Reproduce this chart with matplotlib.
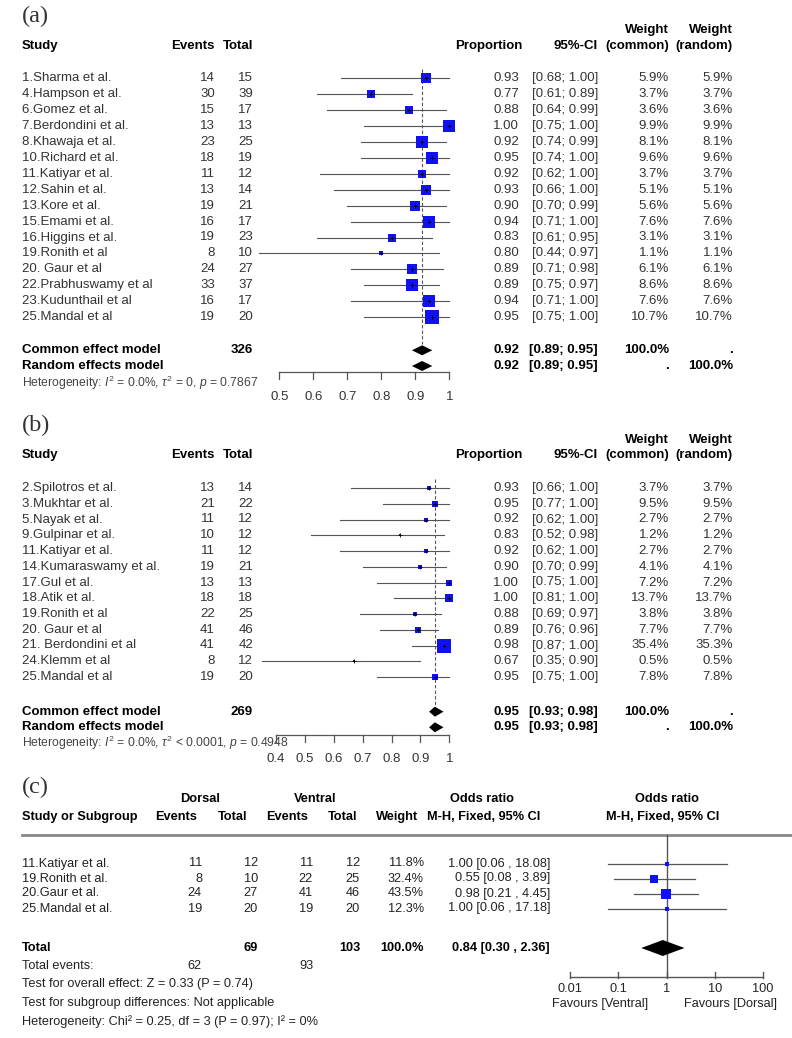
import matplotlib
matplotlib.use('Agg')
import matplotlib.pyplot as plt
import numpy as np

plt.rcParams['font.family'] = ['Liberation Sans', 'DejaVu Sans']
plt.rcParams['mathtext.fontset'] = 'custom'
plt.rcParams['mathtext.rm'] = 'Liberation Sans'
plt.rcParams['mathtext.it'] = 'Liberation Sans:italic'
plt.rcParams['mathtext.bf'] = 'Liberation Sans:bold'

# ---------------- Panel (a) data ----------------
a_studies = ['1.Sharma et al.', '4.Hampson et al.', '6.Gomez et al.', '7.Berdondini et al.',
             '8.Khawaja et al.', '10.Richard et al.', '11.Katiyar et al.', '12.Sahin et al.',
             '13.Kore et al.', '15.Emami et al.', '16.Higgins et al.', '19.Ronith et al',
             '20. Gaur et al', '22.Prabhuswamy et al', '23.Kudunthail et al', '25.Mandal et al']
a_events = [14, 30, 15, 13, 23, 18, 11, 13, 19, 16, 19, 8, 24, 33, 16, 19]
a_totals = [15, 39, 17, 13, 25, 19, 12, 14, 21, 17, 23, 10, 27, 37, 17, 20]
a_prop = [0.93, 0.77, 0.88, 1.00, 0.92, 0.95, 0.92, 0.93, 0.90, 0.94, 0.83, 0.80, 0.89, 0.89, 0.94, 0.95]
a_lo = [0.68, 0.61, 0.64, 0.75, 0.74, 0.74, 0.62, 0.66, 0.70, 0.71, 0.61, 0.44, 0.71, 0.75, 0.71, 0.75]
a_hi = [1.00, 0.89, 0.99, 1.00, 0.99, 1.00, 1.00, 1.00, 0.99, 1.00, 0.95, 0.97, 0.98, 0.97, 1.00, 1.00]
a_w_common = [5.9, 3.7, 3.6, 9.9, 8.1, 9.6, 3.7, 5.1, 5.6, 7.6, 3.1, 1.1, 6.1, 8.6, 7.6, 10.7]
a_w_random = [5.9, 3.7, 3.6, 9.9, 8.1, 9.6, 3.7, 5.1, 5.6, 7.6, 3.1, 1.1, 6.1, 8.6, 7.6, 10.7]
a_common = [0.92, 0.89, 0.95]
a_random = [0.92, 0.89, 0.95]
a_n_total = 326
a_het = r'Heterogeneity: $I^2$ = 0.0%, $\tau^2$ = 0, $p$ = 0.7867'
a_ticks = [0.5, 0.6, 0.7, 0.8, 0.9, 1.0]

# ---------------- Panel (b) data ----------------
b_studies = ['2.Spilotros et al.', '3.Mukhtar et al.', '5.Nayak et al.', '9.Gulpinar et al.',
             '11.Katiyar et al.', '14.Kumaraswamy et al.', '17.Gul et al.', '18.Atik et al.',
             '19.Ronith et al', '20. Gaur et al', '21. Berdondini et al', '24.Klemm et al',
             '25.Mandal et al']
b_events = [13, 21, 11, 10, 11, 19, 13, 18, 22, 41, 41, 8, 19]
b_totals = [14, 22, 12, 12, 12, 21, 13, 18, 25, 46, 42, 12, 20]
b_prop = [0.93, 0.95, 0.92, 0.83, 0.92, 0.90, 1.00, 1.00, 0.88, 0.89, 0.98, 0.67, 0.95]
b_lo = [0.66, 0.77, 0.62, 0.52, 0.62, 0.70, 0.75, 0.81, 0.69, 0.76, 0.87, 0.35, 0.75]
b_hi = [1.00, 1.00, 1.00, 0.98, 1.00, 0.99, 1.00, 1.00, 0.97, 0.96, 1.00, 0.90, 1.00]
b_w_common = [3.7, 9.5, 2.7, 1.2, 2.7, 4.1, 7.2, 13.7, 3.8, 7.7, 35.4, 0.5, 7.8]
b_w_random = [3.7, 9.5, 2.7, 1.2, 2.7, 4.1, 7.2, 13.7, 3.8, 7.7, 35.3, 0.5, 7.8]
b_common = [0.95, 0.93, 0.98]
b_random = [0.95, 0.93, 0.98]
b_n_total = 269
b_het = r'Heterogeneity: $I^2$ = 0.0%, $\tau^2$ < 0.0001, $p$ = 0.4948'
b_ticks = [0.4, 0.5, 0.6, 0.7, 0.8, 0.9, 1.0]

# ---------------- Panel (c) data ----------------
c_studies = ['11.Katiyar et al.', '19.Ronith et al.', '20.Gaur et al.', '25.Mandal et al.']
c_d_events = [11, 8, 24, 19]
c_d_total = [12, 10, 27, 20]
c_v_events = [11, 22, 41, 19]
c_v_total = [12, 25, 46, 20]
c_weight = [11.8, 32.4, 43.5, 12.3]
c_or = [1.00, 0.55, 0.98, 1.00]
c_lo = [0.06, 0.08, 0.21, 0.06]
c_hi = [18.08, 3.89, 4.45, 17.18]
c_total = [0.84, 0.30, 2.36]
c_d_total_sum = 69
c_v_total_sum = 103
c_d_events_sum = 62
c_v_events_sum = 93
c_ticks = [0.01, 0.1, 1, 10, 100]
c_tick_labels = ['0.01', '0.1', '1', '10', '100']
c_footer = ['Test for overall effect: Z = 0.33 (P = 0.74)',
            'Test for subgroup differences: Not applicable',
            'Heterogeneity: Chi\u00b2 = 0.25, df = 3 (P = 0.97); I\u00b2 = 0%']

# ---------------- Figure ----------------
W, H = 792, 1038
fig = plt.figure(figsize=(W / 100, H / 100), dpi=100)
fig.patch.set_facecolor('white')
axt = fig.add_axes([0, 0, 1, 1])
axt.set_xlim(0, W)
axt.set_ylim(H, 0)
axt.axis('off')

TXT = '#333333'
LINE = '#555555'
BLUE = '#1010f0'
FS = 9.5
SERIF = ['Liberation Serif', 'DejaVu Serif']


def forest_axes(x0px, x1px, xmin, xmax, log=False):
    ax = fig.add_axes([x0px / W, 0, (x1px - x0px) / W, 1])
    if log:
        ax.set_xscale('log')
    ax.set_xlim(xmin, xmax)
    ax.set_ylim(H, 0)
    ax.axis('off')
    return ax


def t(x, y, s, ha='left', bold=False, fs=FS, color=TXT, **kw):
    axt.text(x, y, s, ha=ha, va='center', fontsize=fs, color=color,
             fontweight='bold' if bold else 'normal', **kw)


def diamond(ax, est, lo, hi, y, hh, color='black'):
    ax.fill([lo, est, hi, est], [y, y - hh, y, y + hh], color=color, lw=0, zorder=5,
            clip_on=False)


def prop_panel(label, label_y, head_y, row_y0, row_dy, studies, events, totals, prop, lo, hi,
               wc, wr, common, random_, n_total, het, ticks, x0px, x1px, com_y, ran_y,
               het_y, axis_y, ticklab_y, dash_top, dash_bot):
    axt.text(22, label_y, label, ha='left', va='center', fontsize=17.5,
             family=SERIF, color='#333333')
    # headers
    t(22, head_y, 'Study', bold=True, color='black')
    t(215, head_y, 'Events', ha='right', bold=True, color='black')
    t(253, head_y, 'Total', ha='right', bold=True, color='black')
    t(523, head_y, 'Proportion', ha='right', bold=True, color='black')
    t(598, head_y, '95%-CI', ha='right', bold=True, color='black')
    t(669, head_y - 15.5, 'Weight', ha='right', bold=True, color='black')
    t(733, head_y - 15.5, 'Weight', ha='right', bold=True, color='black')
    t(669, head_y, '(common)', ha='right', bold=True, color='black')
    t(733, head_y, '(random)', ha='right', bold=True, color='black')

    ax = forest_axes(x0px, x1px, ticks[0], ticks[-1])
    wmax = max(wc)
    for i, name in enumerate(studies):
        y = row_y0 + i * row_dy
        t(22, y, name)
        t(215, y, str(events[i]), ha='right')
        t(253, y, str(totals[i]), ha='right')
        t(519, y, f'{prop[i]:.2f}', ha='right')
        t(598, y, f'[{lo[i]:.2f}; {hi[i]:.2f}]', ha='right')
        t(669, y, f'{wc[i]:.1f}%', ha='right')
        t(733, y, f'{wr[i]:.1f}%', ha='right')
        ax.plot([lo[i], hi[i]], [y, y], color=LINE, lw=0.8, clip_on=False, zorder=2)
        side = 13.5 * np.sqrt(wc[i] / wmax) * 0.72
        ax.scatter([prop[i]], [y], marker='s', s=side ** 2, color=BLUE, lw=0,
                   zorder=3, clip_on=False)
        ax.plot([prop[i]], [y], marker='+', ms=3, mew=0.6, color='black', zorder=4,
                clip_on=False)
    # reference line
    ax.plot([common[0], common[0]], [dash_top, dash_bot], color=LINE, lw=0.8,
            ls=(0, (3, 2)), clip_on=False, zorder=1)
    # summaries
    t(22, com_y, 'Common effect model', bold=True, color='black')
    t(253, com_y, str(n_total), ha='right', bold=True, color='black')
    t(519, com_y, f'{common[0]:.2f}', ha='right', bold=True, color='black')
    t(598, com_y, f'[{common[1]:.2f}; {common[2]:.2f}]', ha='right', bold=True, color='black')
    t(669, com_y, '100.0%', ha='right', bold=True, color='black')
    t(733, com_y, '.', ha='right', bold=True, color='black')
    diamond(ax, common[0], common[1], common[2], com_y, 5)
    t(22, ran_y, 'Random effects model', bold=True, color='black')
    t(519, ran_y, f'{random_[0]:.2f}', ha='right', bold=True, color='black')
    t(598, ran_y, f'[{random_[1]:.2f}; {random_[2]:.2f}]', ha='right', bold=True, color='black')
    t(669, ran_y, '.', ha='right', bold=True, color='black')
    t(733, ran_y, '100.0%', ha='right', bold=True, color='black')
    diamond(ax, random_[0], random_[1], random_[2], ran_y, 5)
    t(22, het_y, het, fs=8.7, color='#444444')
    # axis
    ax.plot([ticks[0], ticks[-1]], [axis_y, axis_y], color=LINE, lw=0.9, clip_on=False)
    for tk in ticks:
        ax.plot([tk, tk], [axis_y, axis_y + 7], color=LINE, lw=0.9, clip_on=False)
        ax.text(tk, ticklab_y, f'{tk:g}', ha='center', va='center', fontsize=FS, color=TXT)


prop_panel('(a)', 16.5, 46, 78.3, 15.92, a_studies, a_events, a_totals, a_prop, a_lo, a_hi,
           a_w_common, a_w_random, a_common, a_random, a_n_total, a_het, a_ticks,
           279.3, 449.3, 350.3, 366.0, 383.3, 372.3, 397.3, 69, 344)

prop_panel('(b)', 425, 455, 488.0, 15.75, b_studies, b_events, b_totals, b_prop, b_lo, b_hi,
           b_w_common, b_w_random, b_common, b_random, b_n_total, b_het, b_ticks,
           276.0, 449.3, 711.7, 727.3, 743.3, 735.0, 759.3, 479, 705)

# ---------------- Panel (c) ----------------
FC = 9.2
CT = '#222222'
axt.text(22, 787, '(c)', ha='left', va='center', fontsize=17.5, family=SERIF, color='#333333')
hy1, hy2 = 799, 817
t(200, hy1, 'Dorsal', ha='center', bold=True, fs=FC, color='black')
t(315, hy1, 'Ventral', ha='center', bold=True, fs=FC, color='black')
t(482, hy1, 'Odds ratio', ha='center', bold=True, fs=FC, color='black')
t(667, hy1, 'Odds ratio', ha='center', bold=True, fs=FC, color='black')
t(22, hy2, 'Study or Subgroup', bold=True, fs=FC, color='black')
t(197, hy2, 'Events', ha='right', bold=True, fs=FC, color='black')
t(247, hy2, 'Total', ha='right', bold=True, fs=FC, color='black')
t(308, hy2, 'Events', ha='right', bold=True, fs=FC, color='black')
t(357, hy2, 'Total', ha='right', bold=True, fs=FC, color='black')
t(418, hy2, 'Weight', ha='right', bold=True, fs=FC, color='black')
t(484, hy2, 'M-H, Fixed, 95% CI', ha='center', bold=True, fs=FC, color='black')
t(663, hy2, 'M-H, Fixed, 95% CI', ha='center', bold=True, fs=FC, color='black')
axt.plot([22, W], [835, 835], color='#888888', lw=2.0)

axc = forest_axes(570, 763, c_ticks[0], c_ticks[-1], log=True)
cw_max = max(c_weight)
for i, name in enumerate(c_studies):
    y = 863.5 + i * 15.0
    t(22, y, name, fs=FC, color=CT)
    t(202, y, str(c_d_events[i]), ha='right', fs=FC, color=CT)
    t(258, y, str(c_d_total[i]), ha='right', fs=FC, color=CT)
    t(313, y, str(c_v_events[i]), ha='right', fs=FC, color=CT)
    t(360, y, str(c_v_total[i]), ha='right', fs=FC, color=CT)
    t(424, y, f'{c_weight[i]:.1f}%', ha='right', fs=FC, color=CT)
    t(550, y, f'{c_or[i]:.2f} [{c_lo[i]:.2f} , {c_hi[i]:.2f}]', ha='right', fs=FC, color=CT)
    axc.plot([c_lo[i], c_hi[i]], [y, y], color=LINE, lw=0.9, clip_on=False, zorder=2)
    side = 9.5 * (c_weight[i] / cw_max) ** 0.75 * 0.72
    axc.scatter([c_or[i]], [y], marker='s', s=side ** 2, color=BLUE, lw=0, zorder=3,
                clip_on=False)

ty = 948
t(22, ty, 'Total', bold=True, fs=FC, color='black')
t(258, ty, str(c_d_total_sum), ha='right', bold=True, fs=FC, color='black')
t(360, ty, str(c_v_total_sum), ha='right', bold=True, fs=FC, color='black')
t(424, ty, '100.0%', ha='right', bold=True, fs=FC, color='black')
t(550, ty, f'{c_total[0]:.2f} [{c_total[1]:.2f} , {c_total[2]:.2f}]', ha='right', bold=True,
  fs=FC, color='black')
diamond(axc, c_total[0], c_total[1], c_total[2], ty, 8)

t(22, 966, 'Total events:', fs=FC, color=CT)
t(202, 966, str(c_d_events_sum), ha='right', fs=FC, color=CT)
t(313, 966, str(c_v_events_sum), ha='right', fs=FC, color=CT)
for k, line in enumerate(c_footer):
    t(22, 984.5 + k * 18.5, line, fs=FC, color=CT)

# null line and axis
axis_c = 977
axc.plot([1, 1], [835, axis_c], color='#555555', lw=1.0, clip_on=False, zorder=1)
axc.plot([c_ticks[0], c_ticks[-1]], [axis_c, axis_c], color='#555555', lw=1.0, clip_on=False)
for tk, lab in zip(c_ticks, c_tick_labels):
    axc.plot([tk, tk], [axis_c - 5, axis_c + 1], color='#555555', lw=1.0, clip_on=False)
    axc.text(tk, 988.5, lab, ha='center', va='center', fontsize=FC, color=CT)
t(600, 1003.5, 'Favours [Ventral]', ha='center', fs=FC, color=CT)
t(730, 1003.5, 'Favours [Dorsal]', ha='center', fs=FC, color=CT)

fig.savefig('out.png', dpi=100, facecolor='white')
